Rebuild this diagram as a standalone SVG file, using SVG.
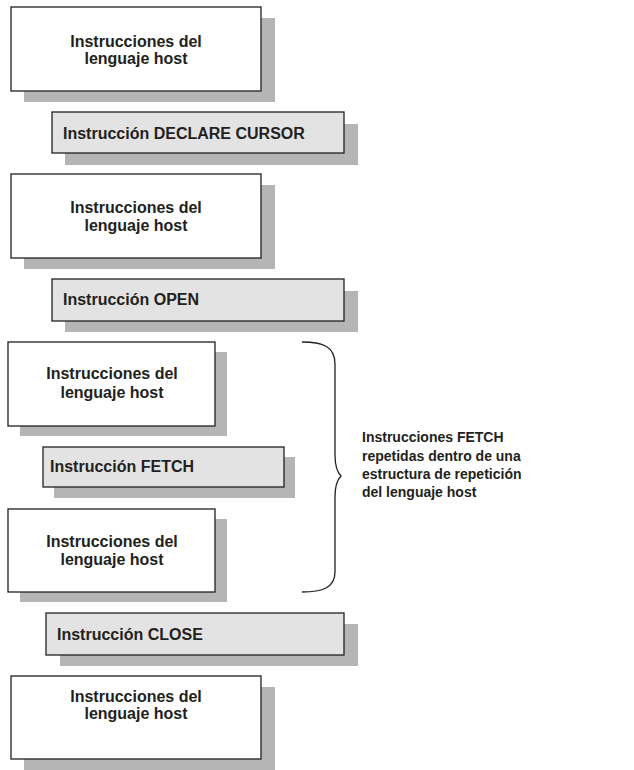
<svg xmlns="http://www.w3.org/2000/svg" width="634" height="770" viewBox="0 0 634 770">
<style>
.shadow{fill:#b5b5b5;stroke:none}
.host{fill:#ffffff;stroke:#231f20;stroke-width:1.3}
.stmt{fill:#e3e3e3;stroke:#231f20;stroke-width:1.3}
.t{font-family:"Liberation Sans",Arial,sans-serif;font-weight:bold;font-size:16px;fill:#231f20}
.tc{text-anchor:middle}
.lbl{font-family:"Liberation Sans",Arial,sans-serif;font-weight:bold;font-size:14px;fill:#231f20}
.brace{fill:none;stroke:#231f20;stroke-width:1.3}
</style>
<rect width="634" height="770" fill="#ffffff"/>
<g id="host1">
<rect class="shadow" x="24" y="18" width="251" height="84"/>
<rect class="host" x="11" y="7" width="250" height="84"/>
<text class="t tc" x="136" y="47">Instrucciones del</text>
<text class="t tc" x="136" y="64">lenguaje host</text>
</g>
<g id="declare">
<rect class="shadow" x="65" y="124" width="293" height="41"/>
<rect class="stmt" x="52" y="112" width="292" height="41"/>
<text class="t" x="63" y="139">Instrucción DECLARE CURSOR</text>
</g>
<g id="host2">
<rect class="shadow" x="24" y="185" width="251" height="84"/>
<rect class="host" x="11" y="174" width="250" height="84"/>
<text class="t tc" x="136" y="213">Instrucciones del</text>
<text class="t tc" x="136" y="231">lenguaje host</text>
</g>
<g id="open">
<rect class="shadow" x="65" y="291" width="293" height="41"/>
<rect class="stmt" x="52" y="279" width="292" height="42"/>
<text class="t" x="63" y="305">Instrucción OPEN</text>
</g>
<g id="host3">
<rect class="shadow" x="20" y="352" width="207" height="84"/>
<rect class="host" x="8" y="342" width="207" height="84"/>
<text class="t tc" x="112" y="379">Instrucciones del</text>
<text class="t tc" x="112" y="398">lenguaje host</text>
</g>
<g id="fetch">
<rect class="shadow" x="54" y="457" width="241" height="41"/>
<rect class="stmt" x="43" y="447" width="241" height="40"/>
<text class="t" x="50" y="472">Instrucción FETCH</text>
</g>
<g id="host4">
<rect class="shadow" x="20" y="519" width="207" height="83"/>
<rect class="host" x="8" y="509" width="207" height="83"/>
<text class="t tc" x="112" y="547">Instrucciones del</text>
<text class="t tc" x="112" y="565">lenguaje host</text>
</g>
<g id="close">
<rect class="shadow" x="60" y="624" width="298" height="42"/>
<rect class="stmt" x="46" y="613" width="298" height="42"/>
<text class="t" x="57" y="640">Instrucción CLOSE</text>
</g>
<g id="host5">
<rect class="shadow" x="24" y="687" width="251" height="83"/>
<rect class="host" x="11" y="676" width="250" height="83"/>
<text class="t tc" x="136" y="702">Instrucciones del</text>
<text class="t tc" x="136" y="719">lenguaje host</text>
</g>
<g id="connectors">
<path class="brace" d="M302,342 C322,342 335,346 335,364 L335,455 C335,466 337,472 341,476 C337,480 335,486 335,497 L335,572 C335,588 322,592 302,592"/>
</g>
<g id="loop-label">
<text class="lbl" x="362" y="442">Instrucciones FETCH</text>
<text class="lbl" x="362" y="461">repetidas dentro de una</text>
<text class="lbl" x="362" y="479">estructura de repetición</text>
<text class="lbl" x="362" y="497">del lenguaje host</text>
</g>
</svg>
